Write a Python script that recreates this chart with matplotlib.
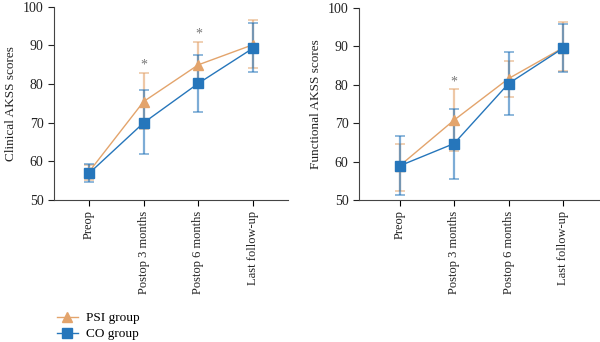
import numpy as np
import matplotlib.pyplot as plt

plt.rcParams['font.family'] = ['Liberation Serif', 'DejaVu Serif']

timepoints = ['Preop', 'Postop 3 months', 'Postop 6 months', 'Last follow-up']

# clinical AKSS: mean, upper and lower error bar ends
clin_psi = [57.3, 75.5, 85.0, 90.2]
clin_psi_hi = [59.0, 83.0, 91.0, 96.5]
clin_psi_lo = [55.3, 68.3, 79.4, 84.1]
clin_co = [56.9, 70.0, 80.2, 89.3]
clin_co_hi = [59.3, 78.5, 87.6, 95.8]
clin_co_lo = [54.6, 61.8, 72.7, 83.1]
clin_sig = [1, 2]

# functional AKSS
func_psi = [58.9, 70.8, 81.6, 89.6]
func_psi_hi = [64.7, 78.9, 86.3, 96.3]
func_psi_lo = [52.4, 62.8, 76.7, 83.5]
func_co = [58.9, 64.7, 80.3, 89.5]
func_co_hi = [66.6, 73.7, 88.5, 95.9]
func_co_lo = [51.3, 55.6, 72.1, 83.4]
func_sig = [1]

orange = '#E3A46C'
blue = '#2676BB'
x = np.arange(len(timepoints))


def panel(ax, psi, psi_hi, psi_lo, co, co_hi, co_lo, sig, ylabel):
    for m, hi, lo, c, mk in [(psi, psi_hi, psi_lo, orange, '^'),
                             (co, co_hi, co_lo, blue, 's')]:
        m = np.array(m)
        err = [m - np.array(lo), np.array(hi) - m]
        ax.errorbar(x, m, yerr=err, fmt='none', ecolor=c, elinewidth=1.6,
                    capsize=3.5, capthick=1.2, alpha=0.6, zorder=2)
        ax.plot(x, m, color=c, lw=1.0, marker=mk, ms=7 if mk == 's' else 6.5,
                mfc=c, mec=c, zorder=3)
    for i in sig:
        ax.text(x[i], max(psi_hi[i], co_hi[i]) + 0.2, '*', ha='center',
                va='bottom', color='#777777', fontsize=10)
    ax.set_ylim(50, 100)
    ax.set_yticks(range(50, 101, 10))
    ax.set_xticks(x)
    ax.set_xticklabels(timepoints, rotation=90, fontsize=9, color='#222222')
    ax.tick_params(axis='y', labelsize=10, colors='#222222', length=4)
    ax.tick_params(axis='x', length=4)
    ax.set_ylabel(ylabel, fontsize=9.5, color='#222222')
    for s in ['top', 'right']:
        ax.spines[s].set_visible(False)
    for s in ['left', 'bottom']:
        ax.spines[s].set_color('#444444')


fig = plt.figure(figsize=(6, 3.42), dpi=100)
ax1 = fig.add_axes([0.09, 0.415, 0.39, 0.565])
ax2 = fig.add_axes([0.598, 0.415, 0.402, 0.562])

panel(ax1, clin_psi, clin_psi_hi, clin_psi_lo, clin_co, clin_co_hi, clin_co_lo,
      clin_sig, 'Clinical AKSS scores')
panel(ax2, func_psi, func_psi_hi, func_psi_lo, func_co, func_co_hi, func_co_lo,
      func_sig, 'Functional AKSS scores')
ax1.set_xlim(-0.64, 3.64)
ax2.set_xlim(-0.75, 3.68)

h1, = ax1.plot([], [], color=orange, lw=1.0, marker='^', ms=6.5)
h2, = ax1.plot([], [], color=blue, lw=1.0, marker='s', ms=6.5)
fig.legend([h1, h2], ['PSI group', 'CO group'], loc='lower left',
           bbox_to_anchor=(0.075, -0.03), frameon=False, fontsize=9.5,
           handlelength=1.6, labelspacing=0.3, handletextpad=0.6)

fig.savefig('out.png', dpi=100)
